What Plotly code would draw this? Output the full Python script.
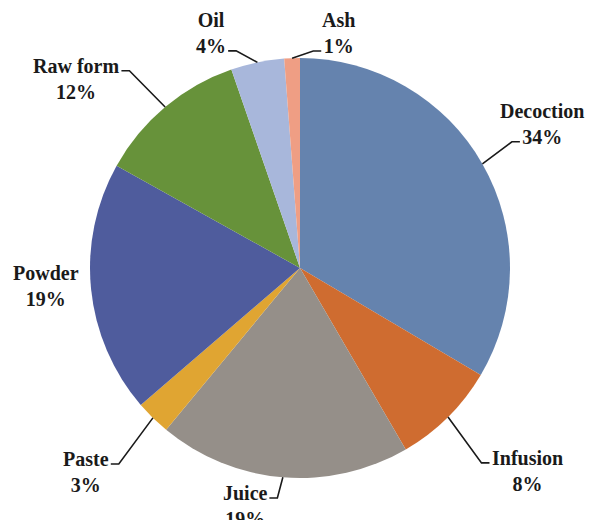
import numpy as np
import plotly.graph_objects as go

# data
labels = ["Decoction", "Infusion", "Juice", "Paste", "Powder", "Raw form", "Oil", "Ash"]
shares = [33.5, 8.1, 19.4, 2.7, 19.4, 11.6, 4.1, 1.2]
pct_text = ["34%", "8%", "19%", "3%", "19%", "12%", "4%", "1%"]
colors = ["#6583AE", "#CF6C30", "#958F89", "#E0A532",
          "#4F5C9D", "#67923A", "#A8B7DB", "#EF9E84"]

# label placement (relative to slice middle): angle nudge in deg, distance in radii,
# which text row the leader line meets (None = no leader)
label_nudge = [-1.1, -3.4, 8.3, 1.9, 1.7, -9.8, -9.0, 11.4]
label_dist = [1.341, 1.45, 1.163, 1.408, 1.212, 1.395, 1.197, 1.134]
attach_row = [1, 0, 0, 0, None, 0, 1, 1]

# the page body has an 8px margin, so the figure is drawn a bit smaller
PAD = 8
W, H = 595 - PAD, 520 - PAD
CX, CY, R = 300, 268, 210   # screen pixels
FS = 20
FONT = "Liberation Serif"

# rough Times Bold advance widths (per 1000 em)
TW = {" ": 250, "%": 1000, "A": 722, "D": 722, "I": 389, "J": 500, "O": 778,
      "P": 611, "R": 722, "a": 500, "c": 444, "d": 556, "e": 444, "f": 333,
      "h": 556, "i": 278, "l": 278, "m": 833, "n": 556, "o": 500, "r": 444,
      "s": 389, "t": 333, "u": 556, "w": 722}


def text_width(s):
    return sum(TW.get(ch, 500) for ch in s) / 1000 * FS


def px(x, y):
    return (x - PAD) / W, 1 - (y - PAD) / H


x0, y1 = px(CX - R, CY - R)
x1, y0 = px(CX + R, CY + R)

fig = go.Figure(go.Pie(
    labels=labels,
    values=shares,
    sort=False,
    direction="clockwise",
    rotation=0,
    marker=dict(colors=colors, line=dict(width=0)),
    textinfo="none",
    hoverinfo="label+percent",
    domain=dict(x=[x0, x1], y=[y0, y1]),
    showlegend=False,
))

vals = np.array(shares, dtype=float)
cum = np.cumsum(vals) - vals / 2
mid = cum / vals.sum() * 360

pitch = 1.3 * FS
for i, name in enumerate(labels):
    a = np.radians(mid[i] + label_nudge[i])
    lx = CX + label_dist[i] * R * np.sin(a)
    ly = CY - label_dist[i] * R * np.cos(a)
    x, y = px(lx, ly)
    fig.add_annotation(
        x=x, y=y, xref="paper", yref="paper",
        text=f"{name}<br>{pct_text[i]}",
        showarrow=False, xanchor="center", yanchor="middle",
        font=dict(family=FONT, size=FS, color="#1A1A1A", weight="bold"),
    )
    row = attach_row[i]
    if row is None:
        continue
    am = np.radians(mid[i])
    sx = CX + R * np.sin(am)
    sy = CY - R * np.cos(am)
    row_text = name if row == 0 else pct_text[i]
    side = 1 if lx > sx else -1
    ex = lx - side * (text_width(row_text) / 2 + 2)
    ey = ly + (row - 0.5) * pitch + 0.25 * FS
    bx = ex - side * 8
    p0, p1, p2 = px(sx, sy), px(bx, ey), px(ex, ey)
    fig.add_shape(
        type="path", xref="paper", yref="paper",
        path=f"M {p0[0]} {p0[1]} L {p1[0]} {p1[1]} L {p2[0]} {p2[1]}",
        line=dict(color="#1A1A1A", width=1.6),
    )

fig.update_layout(
    width=W, height=H,
    margin=dict(l=0, r=0, t=0, b=0),
    paper_bgcolor="white",
    plot_bgcolor="white",
)

fig.write_html("out.html")
